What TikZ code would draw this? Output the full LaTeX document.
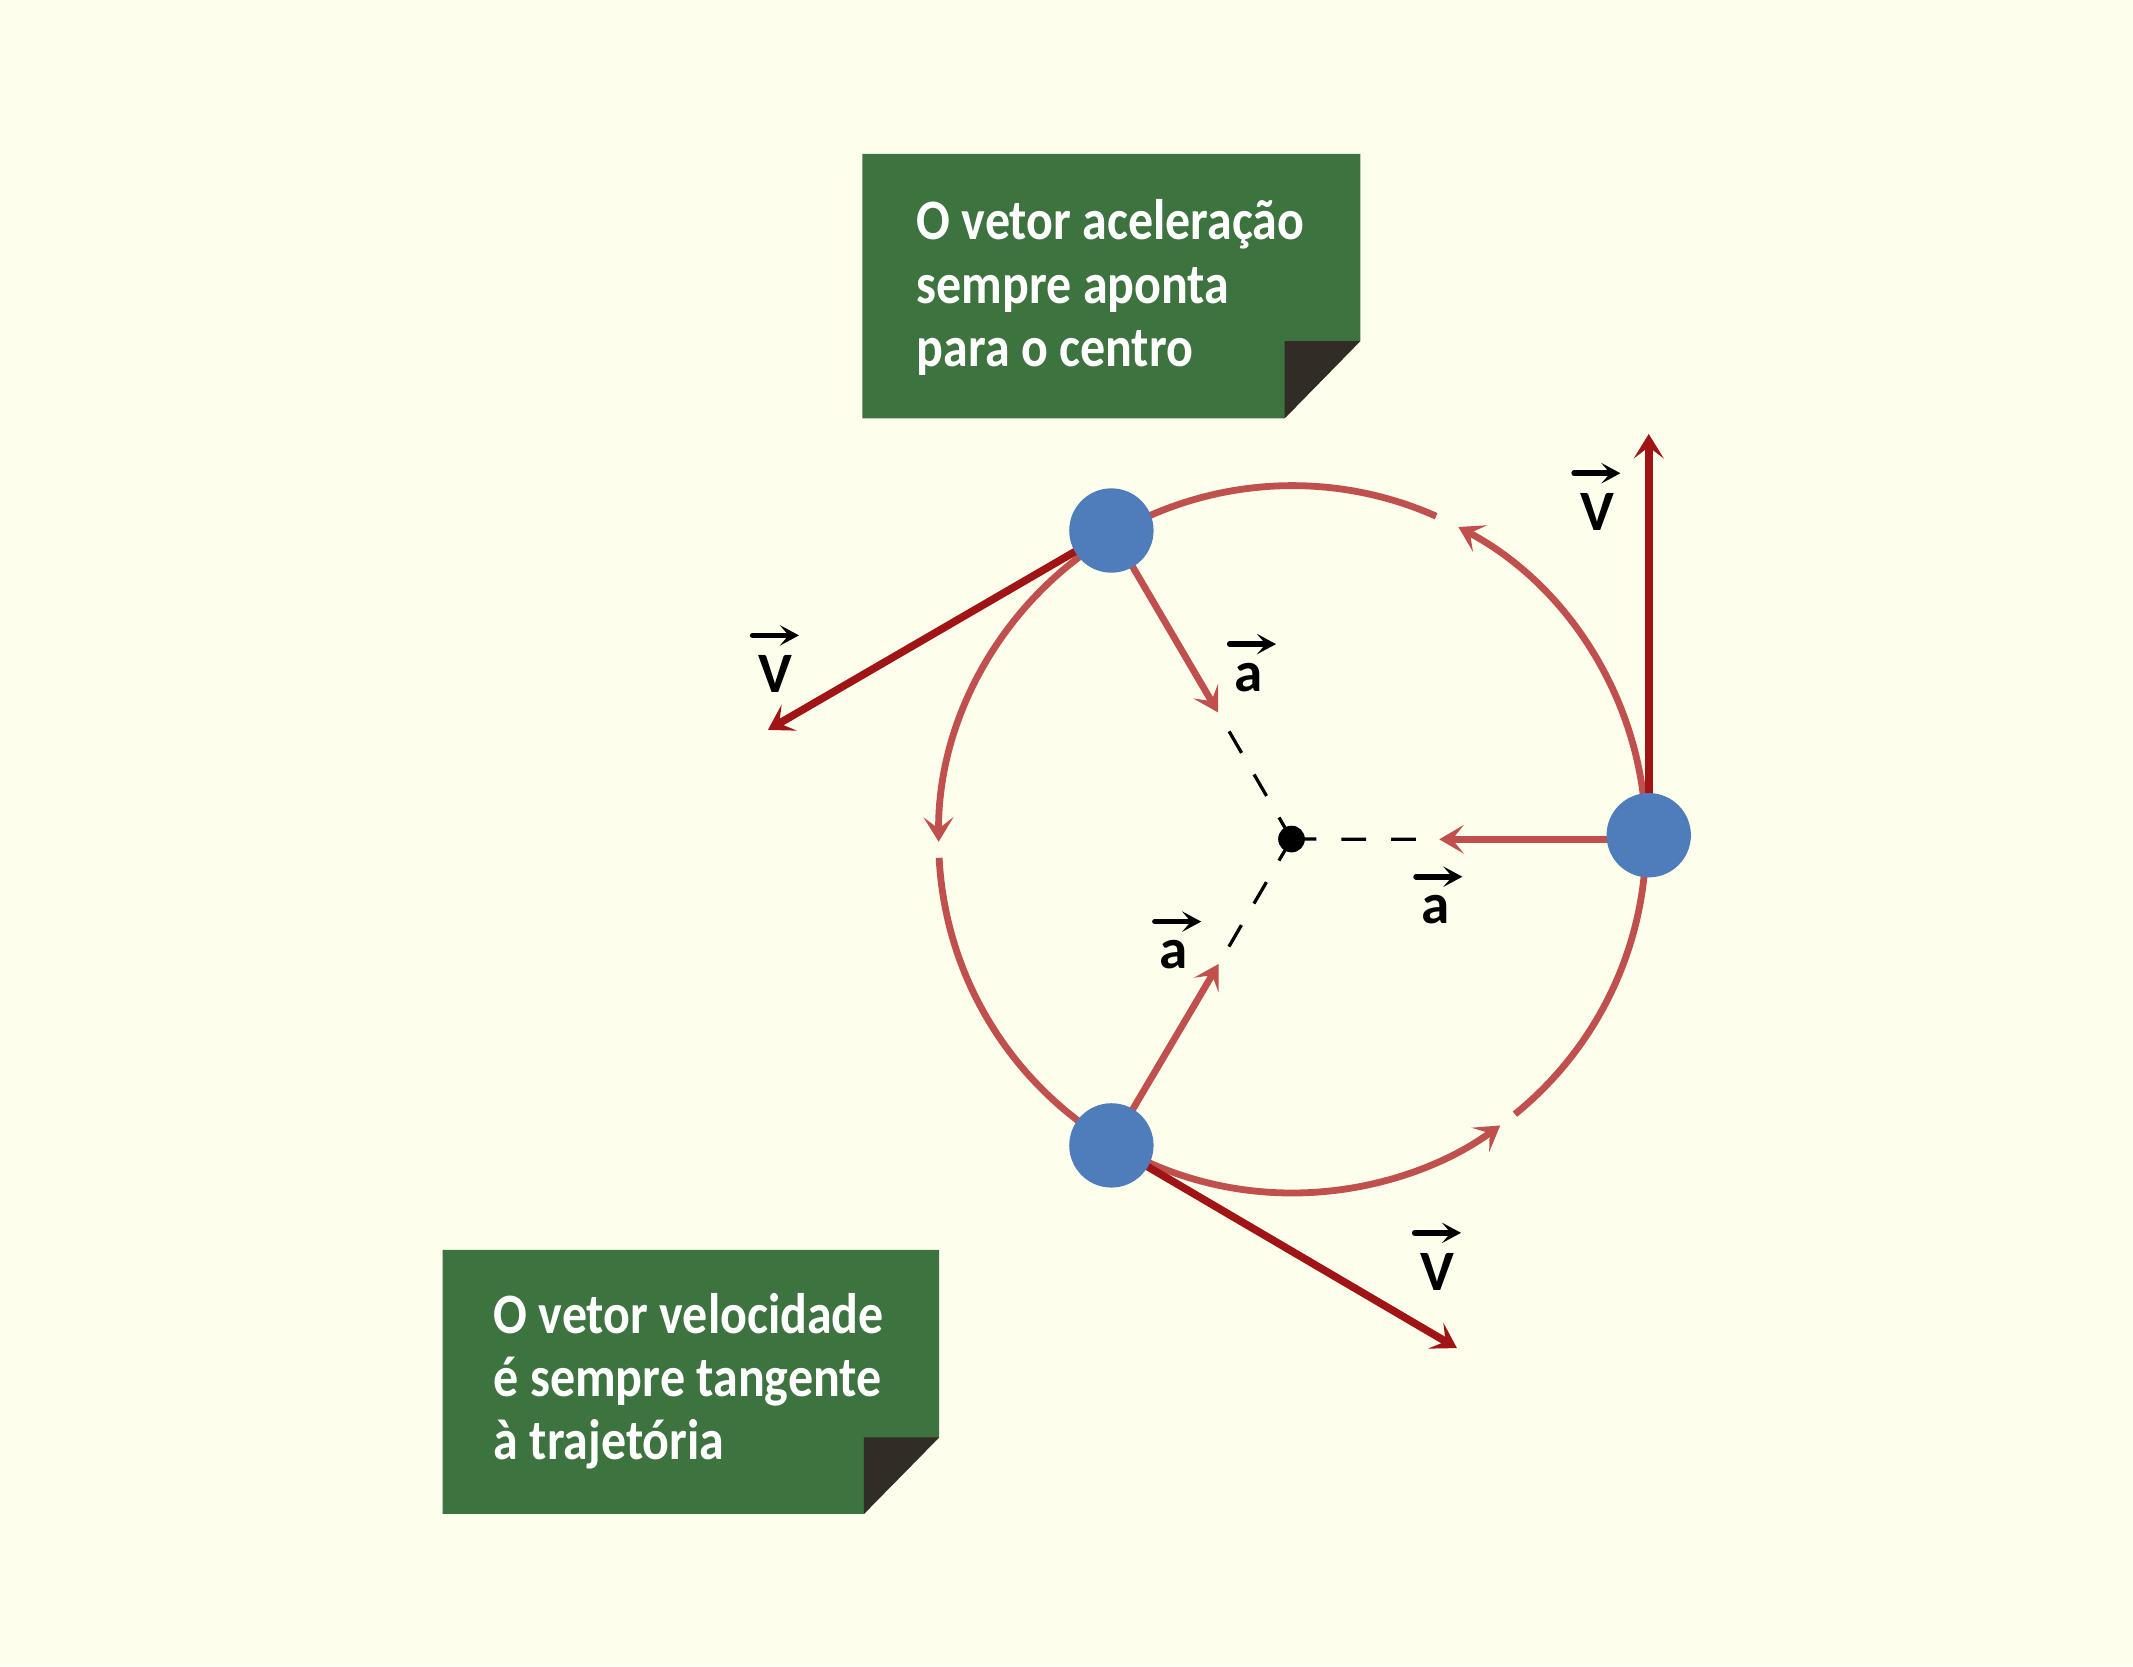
\documentclass[tikz,border=0pt]{standalone}
\usepackage{fontspec}
\setmainfont{Carlito}
\newfontfamily\boxfont[FakeStretch=0.875]{Carlito}
\usetikzlibrary{arrows.meta}
\definecolor{bgc}{RGB}{253,254,236}
\definecolor{circred}{RGB}{192,80,77}
\definecolor{velred}{RGB}{160,20,22}
\definecolor{ballblue}{RGB}{79,125,188}
\definecolor{boxgreen}{RGB}{61,115,63}
\definecolor{folddark}{RGB}{50,44,39}
\begin{document}
\begin{tikzpicture}[x=0.5pt,y=0.5pt,
  circ/.style={draw=circred, line width=2.5pt, -{Stealth[length=9pt,width=11pt,inset=4.2pt]}},
  acc/.style={draw=circred, line width=2.5pt, -{Stealth[length=9pt,width=10.5pt,inset=4.2pt]}},
  vel/.style={draw=velred, line width=2.8pt, -{Stealth[length=9pt,width=11pt,inset=4.2pt]}},
  radial/.style={draw=black, line width=1.2pt, dash pattern=on 9.15pt off 9.15pt},
  ball/.style={circle, fill=ballblue, minimum size=31pt, inner sep=0pt},
  dot/.style={circle, fill=black, minimum size=9.8pt, inner sep=0pt},
  lbl/.style={inner sep=0pt, font=\bfseries\fontsize{21pt}{24pt}\selectfont},
  ovar/.style={draw=black, line width=2.1pt, line cap=round, -{Stealth[length=7pt,width=7.5pt,inset=3.2pt]}},
  note/.style={inner sep=0pt, anchor=base west, text=white, font=\boxfont\bfseries\fontsize{21pt}{23.25pt}\selectfont}
]
\useasboundingbox (0,0) rectangle (1568,1225);
\fill[bgc] (0,0) rectangle (1568,1225);

% note boxes
\fill[boxgreen] (634,1111.8) -- (1000,1111.8) -- (1000,974.3) -- (944.4,917.5) -- (634,917.5) -- cycle;
\fill[folddark] (944.4,974.3) -- (1000,974.3) -- (944.4,917.5) -- cycle;
\node[note] (t1) at (673.6,1048.6) {\vtop{\hbox{O vetor aceleração}\hbox{sempre aponta}\hbox{para o centro}}};

\fill[boxgreen] (325.4,306.2) -- (690.3,306.2) -- (690.3,168.3) -- (635.1,112.1) -- (325.4,112.1) -- cycle;
\fill[folddark] (635.1,168.3) -- (690.3,168.3) -- (635.1,112.1) -- cycle;
\node[note] (t2) at (362.6,245) {\vtop{\hbox{O vetor velocidade}\hbox{é sempre tangente}\hbox{à trajetória}}};

% trajectory
\coordinate (C) at (950,608);
\draw[circ] ([shift={(309:130pt)}]C) arc[start angle=309, end angle=422, radius=130pt];
\draw[circ] ([shift={(66:130pt)}]C) arc[start angle=66, end angle=180.4, radius=130pt];
\draw[circ] ([shift={(183:130pt)}]C) arc[start angle=183, end angle=306, radius=130pt];

% centre and radial dashes
\node[dot] (c) at (949.4,608.2) {};
\coordinate (dR) at (1042,608);
\coordinate (dT) at (903.5,687.4);
\coordinate (dB) at (903.2,528.8);
\draw[radial] (c.center) -- (dR);
\draw[radial] (c.center) -- (dT);
\draw[radial] (c.center) -- (dB);

% acceleration vectors
\coordinate (aR) at (1058,608);
\coordinate (aT) at (895.4,701.3);
\coordinate (aB) at (895.9,516.4);
\coordinate (sR) at (1212,608);
\draw[acc] (sR) -- (aR);
\draw[acc] (817,835) coordinate (sT) -- (aT);
\draw[acc] (817,383) coordinate (sB) -- (aB);

% velocity vectors
\coordinate (vR) at (1212,906);
\coordinate (vT) at (564.5,688.4);
\coordinate (vB) at (1071,234);
\draw[vel] (1212,611) coordinate (bRc) -- (vR);
\draw[vel] (sT) -- (vT);
\draw[vel] (sB) -- (vB);

% balls
\node[ball] (bR) at (1212,611) {};
\node[ball] (bT) at (817,835) {};
\node[ball] (bB) at (817,383) {};

% labels
\node[lbl] (lV1) at (1174.2,848.7) {V};
\node[lbl] (lV2) at (570.3,729.5) {V};
\node[lbl] (lV3) at (1057,290.3) {V};
\node[lbl] (la1) at (918,727) {a};
\node[lbl] (la2) at (1055,556) {a};
\node[lbl] (la3) at (863,523) {a};
\foreach \n in {lV1,lV2,lV3}
  \draw[ovar] ([shift={(-17,28.4)}]\n.center) -- ([shift={(17,28.4)}]\n.center);
\foreach \n in {la1,la2,la3}
  \draw[ovar] ([shift={(-14,24.5)}]\n.center) -- ([shift={(20,24.5)}]\n.center);
\end{tikzpicture}
\end{document}
